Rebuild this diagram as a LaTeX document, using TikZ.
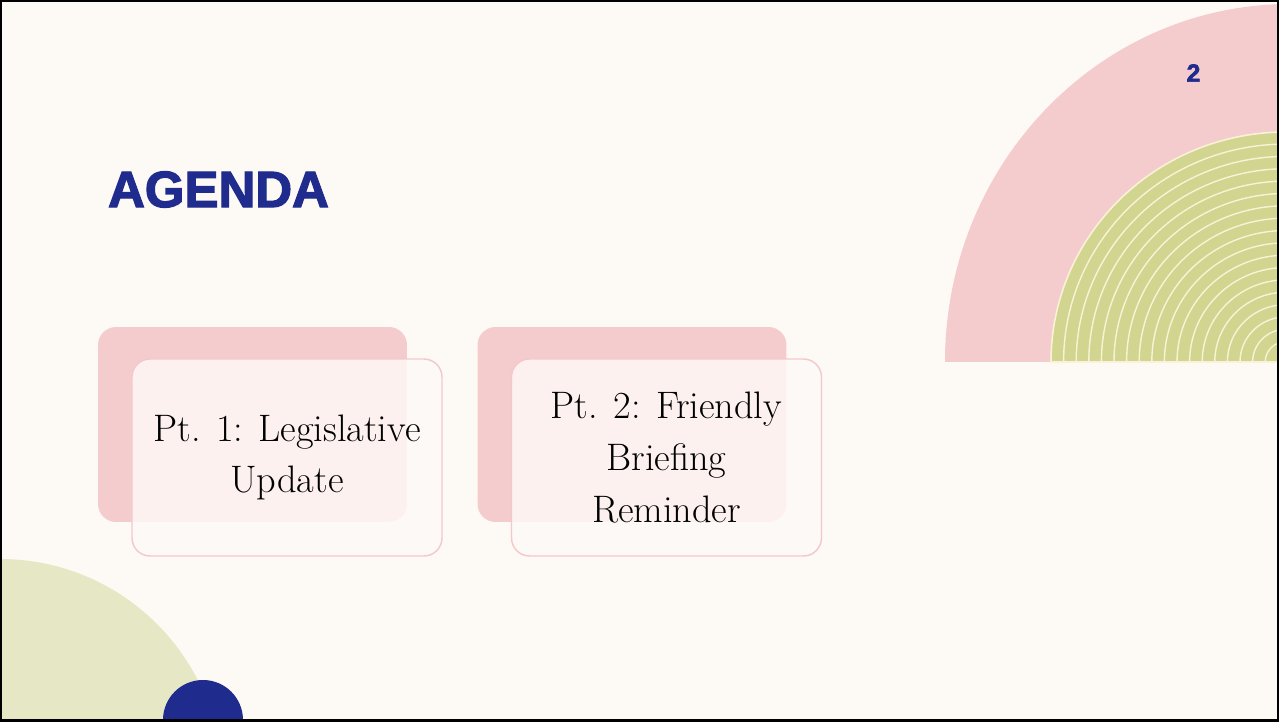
\documentclass[tikz,border=0pt]{standalone}
\usepackage{fontspec}
\usepackage{tikz}
\newfontfamily\headfont{Liberation Sans}[BoldFeatures={FakeBold=2.5}]
\definecolor{cream}{HTML}{FDF9F4}
\definecolor{rose}{HTML}{F5CCCE}
\definecolor{roseline}{HTML}{F4C8CB}
\definecolor{olive}{HTML}{D2D590}
\definecolor{paleolive}{HTML}{E6E8C5}
\definecolor{ringline}{HTML}{F8F3D6}
\definecolor{navy}{HTML}{1F2B8D}
\definecolor{veil}{HTML}{FEFAF7}
\tikzset{
	backbox/.style={fill=rose, rounded corners=0.36cm, minimum width=6.18cm, minimum height=3.9cm},
	frontbox/.style={fill=veil, fill opacity=0.82, text opacity=1, draw=roseline, line width=0.8pt,
		rounded corners=0.36cm, minimum width=6.2cm, minimum height=3.94cm,
		align=center, font=\fontsize{21.8}{29.5}\selectfont},
}

\begin{document}
\begin{tikzpicture}[x=0.02cm,y=0.02cm]
	\useasboundingbox (0,0) rectangle (1279,721);
	\fill[cream] (0,0) rectangle (1279,721);
	\begin{scope}
		\clip (0,0) rectangle (1279,721);
		% top right
		\fill[rose] (945,359) arc[start angle=180, end angle=0, x radius=345, y radius=358] -- cycle;
		\fill[olive, draw=ringline, line width=0.9pt] (1051,359) arc[start angle=180, end angle=0, x radius=235, y radius=230] -- cycle;
		\foreach \k in {1,...,17} {
			\pgfmathsetmacro\rr{235-12.6*\k}
			\draw[ringline, line width=0.8pt] (1286-\rr,359) arc[start angle=180, end angle=0, x radius=\rr, y radius=\rr*0.98];
		}
		% bottom left
		\fill[paleolive] (0,-60) circle[radius=222];
		\fill[navy] (203,1) circle[radius=40];
	\end{scope}
	\draw[black, line width=2.8pt] (0,0) rectangle (1279,721);

	\node[text=navy, font=\headfont\bfseries\fontsize{14}{14}\selectfont] (page) at (1193.5,648) {2};
	\node[text=navy, font=\headfont\bfseries\fontsize{29}{29}\selectfont] (title) at (218.5,531.5) {AGENDA};

	\node[backbox] (b1) at (252.5,296.5) {};
	\node[frontbox] (f1) at (287,263.5) {Pt. 1: Legislative\\Update};
	\node[backbox] (b2) at (632,296.5) {};
	\node[frontbox] (f2) at (666.5,263.5) {Pt. 2: Friendly\\Briefing\\Reminder};
\end{tikzpicture}
\end{document}
